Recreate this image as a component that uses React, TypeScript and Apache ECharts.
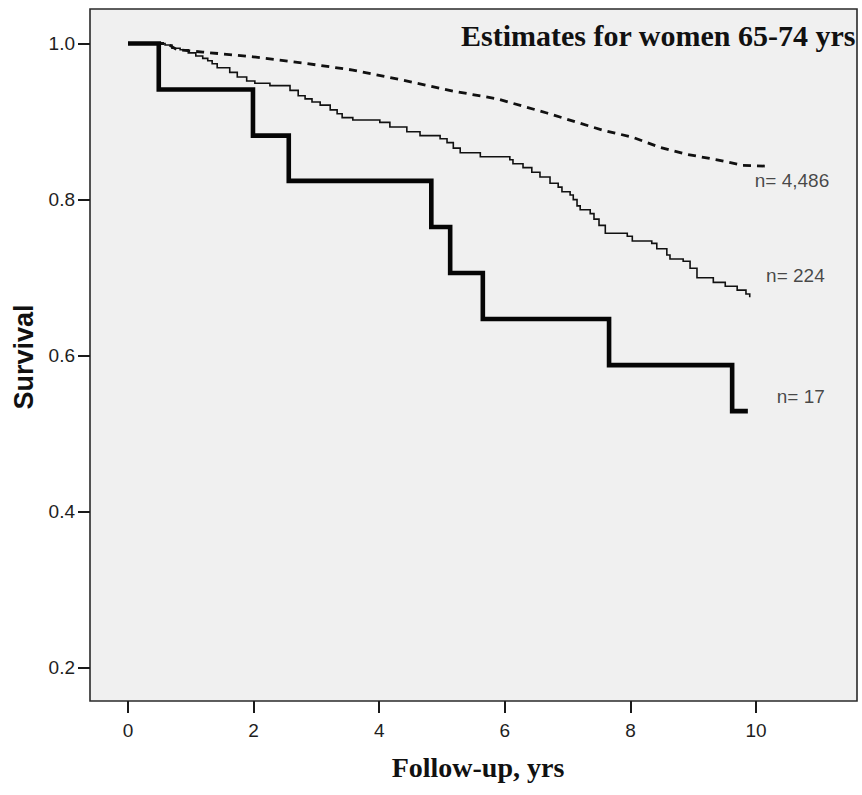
import React, { useEffect, useRef } from "react";
import * as echarts from "echarts";

// Kaplan-Meier estimates, women 65-74 yrs
const n17Time = [0, 0.49, 1.99, 2.56, 4.83, 5.13, 5.65, 7.66, 9.62, 9.87];
const n17Surv = [1.0, 0.941, 0.882, 0.824, 0.765, 0.706, 0.647, 0.588, 0.529, 0.529];

const n224Time = [
  0, 0.59, 0.7, 0.83, 0.96, 1.08, 1.19, 1.27, 1.34, 1.42, 1.62, 1.74, 1.89, 2.02, 2.26, 2.58,
  2.71, 2.82, 2.93, 3.06, 3.22, 3.33, 3.41, 3.58, 4.01, 4.17, 4.44, 4.65, 4.97, 5.08, 5.18,
  5.29, 5.61, 6.08, 6.13, 6.29, 6.43, 6.56, 6.72, 6.85, 6.91, 7.04, 7.09, 7.15, 7.2, 7.36,
  7.42, 7.5, 7.6, 7.95, 8.03, 8.34, 8.42, 8.58, 8.63, 8.84, 8.95, 9.06, 9.32, 9.51, 9.7,
  9.84, 9.9,
];
const n224Surv = [
  1.0, 0.998, 0.994, 0.992, 0.988, 0.984, 0.981, 0.978, 0.974, 0.969, 0.963, 0.957, 0.952,
  0.949, 0.946, 0.94, 0.933, 0.929, 0.925, 0.921, 0.915, 0.91, 0.905, 0.902, 0.899, 0.893,
  0.887, 0.882, 0.878, 0.873, 0.866, 0.86, 0.855, 0.851, 0.846, 0.841, 0.835, 0.829, 0.821,
  0.816, 0.81, 0.806, 0.8, 0.792, 0.787, 0.782, 0.775, 0.767, 0.757, 0.753, 0.747, 0.744,
  0.737, 0.729, 0.724, 0.721, 0.712, 0.7, 0.694, 0.689, 0.684, 0.679, 0.675,
];

const n4486Time = [0, 0.62, 0.78, 1.19, 1.99, 2.79, 3.58, 4.38, 5.18, 5.88, 6.67, 7.15, 7.56, 8.03, 8.47, 8.9, 9.38, 9.79, 10.14];
const n4486Surv = [1.0, 1.0, 0.992, 0.989, 0.983, 0.975, 0.966, 0.953, 0.939, 0.929, 0.911, 0.899, 0.889, 0.88, 0.867, 0.858, 0.851, 0.844, 0.843];

const xTicks = [0, 2, 4, 6, 8, 10];
const yTicks = [0.2, 0.4, 0.6, 0.8, 1.0];

const groupLabels = ["n= 4,486", "n= 224", "n= 17"];
const labelTime = [9.98, 10.16, 10.33];
const labelSurv = [0.824, 0.703, 0.548];

const titleText = "Estimates for women 65-74 yrs";
const xTitle = "Follow-up, yrs";
const yTitle = "Survival";

const zip = (a: number[], b: number[]) => a.map((v, i) => [v, b[i]]);

export default function App() {
  const ref = useRef<HTMLDivElement>(null);
  useEffect(() => {
    if (!ref.current) return;
    const chart = echarts.init(ref.current, null, { renderer: "svg" });
    const sans = "'Liberation Sans', Arial, sans-serif";
    const serif = "'Liberation Serif', 'Times New Roman', serif";
    chart.setOption({
      animation: false,
      backgroundColor: "#ffffff",
      grid: {
        left: 90,
        top: 9,
        width: 767,
        height: 692,
        show: true,
        backgroundColor: "#f0f0f0",
        borderColor: "#2a2a2a",
        borderWidth: 1.6,
        containLabel: false,
      },
      xAxis: {
        type: "value",
        min: -0.605,
        max: 11.608,
        position: "bottom",
        axisLine: { show: false, onZero: false },
        splitLine: { show: false },
        axisTick: {
          show: true,
          inside: false,
          length: 12,
          customValues: xTicks,
          lineStyle: { color: "#1a1a1a", width: 2 },
        },
        axisLabel: {
          show: true,
          customValues: xTicks,
          margin: 20,
          color: "#1e1e1e",
          fontSize: 19,
          fontFamily: sans,
          formatter: (v: number) => String(v),
        },
      },
      yAxis: {
        type: "value",
        min: 0.1577,
        max: 1.0442,
        position: "left",
        axisLine: { show: false, onZero: false },
        splitLine: { show: false },
        axisTick: {
          show: true,
          inside: false,
          length: 12,
          customValues: yTicks,
          lineStyle: { color: "#1a1a1a", width: 2 },
        },
        axisLabel: {
          show: true,
          customValues: yTicks,
          margin: 15,
          color: "#1e1e1e",
          fontSize: 19,
          fontFamily: sans,
          formatter: (v: number) => v.toFixed(1),
        },
      },
      series: [
        {
          type: "line",
          name: "n4486",
          data: zip(n4486Time, n4486Surv),
          showSymbol: false,
          symbol: "none",
          smooth: false,
          lineStyle: { color: "#111", width: 2.8, type: [8, 6] },
          z: 2,
        },
        {
          type: "line",
          name: "n224",
          data: zip(n224Time, n224Surv),
          step: "end",
          showSymbol: false,
          symbol: "none",
          lineStyle: { color: "#111", width: 1.6, join: "miter" },
          z: 3,
        },
        {
          type: "line",
          name: "n17",
          data: zip(n17Time, n17Surv),
          step: "end",
          showSymbol: false,
          symbol: "none",
          lineStyle: { color: "#050505", width: 4.6, join: "miter", cap: "butt" },
          z: 4,
        },
        {
          type: "scatter",
          name: "labels",
          silent: true,
          symbolSize: 0,
          data: groupLabels.map((t, i) => ({ value: [labelTime[i], labelSurv[i]], name: t })),
          label: {
            show: true,
            position: "inside",
            align: "left",
            verticalAlign: "middle",
            formatter: (p: any) => p.name,
            color: "#1a1a1a",
            fontSize: 19,
            fontFamily: sans,
          },
          z: 5,
        },
      ],
      graphic: [
        {
          type: "text",
          left: 461,
          top: 20,
          z: 50,
          style: {
            text: titleText,
            fill: "#111",
            font: `bold 30px ${serif}`,
          },
        },
        {
          type: "text",
          z: 50,
          x: 478,
          y: 767,
          style: {
            text: xTitle,
            fill: "#111",
            font: `bold 28px ${serif}`,
            textAlign: "center",
            textVerticalAlign: "middle",
          },
        },
        {
          type: "text",
          z: 50,
          x: 24,
          y: 357,
          rotation: Math.PI / 2,
          style: {
            text: yTitle,
            fill: "#111",
            font: `bold 27px ${sans}`,
            textAlign: "center",
            textVerticalAlign: "middle",
          },
        },
      ],
    });
    return () => chart.dispose();
  }, []);
  return (
    <div
      ref={ref}
      style={{ position: "absolute", left: 0, top: 0, width: 862, height: 795 }}
    />
  );
}
